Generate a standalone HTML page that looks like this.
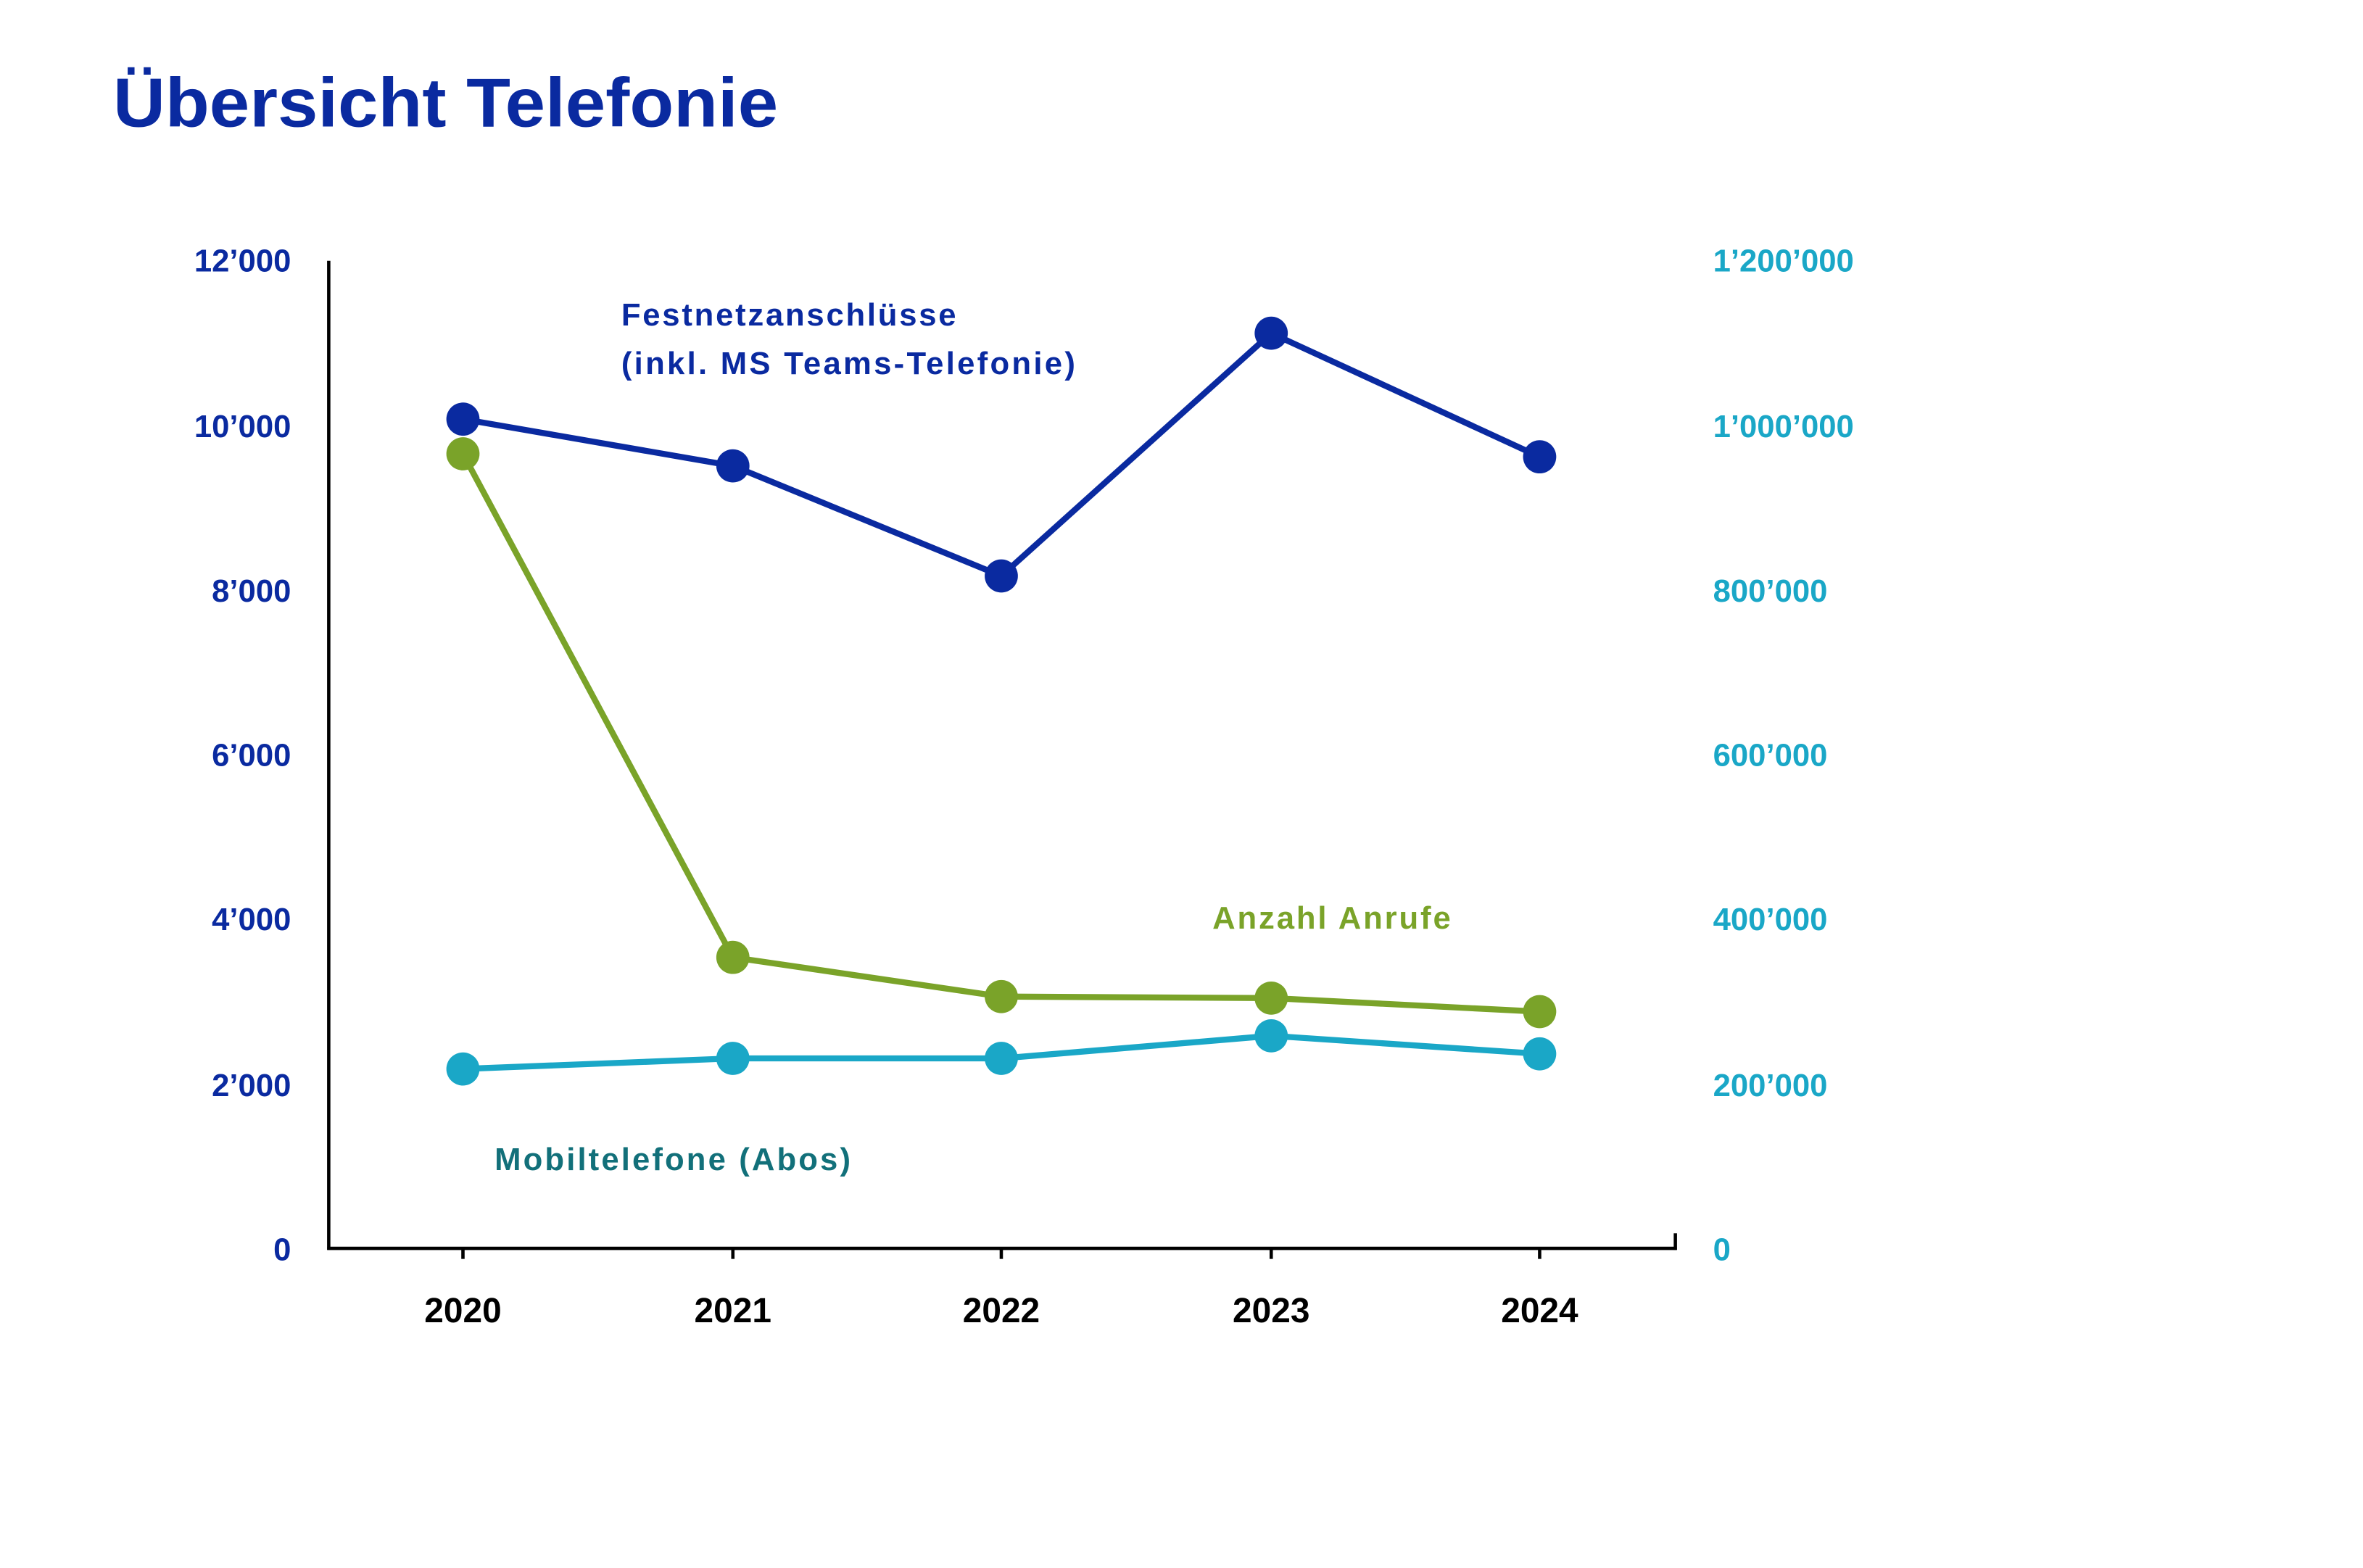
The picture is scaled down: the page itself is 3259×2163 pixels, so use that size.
<!DOCTYPE html>
<html><head><meta charset="utf-8"><style>
html,body{margin:0;padding:0;background:#fff;}
svg{display:block;}
text{font-family:"Liberation Sans",sans-serif;}
</style></head><body>
<svg width="3259" height="2163" viewBox="0 0 1567 1040" preserveAspectRatio="none" xmlns="http://www.w3.org/2000/svg">
<text x="75" y="84" font-size="46" font-weight="bold" fill="#0a2aa0" textLength="441" lengthAdjust="spacingAndGlyphs">Übersicht Telefonie</text>
<g stroke="#000" stroke-width="2.2" fill="none">
<line x1="218" y1="173" x2="218" y2="829"/>
<line x1="217" y1="828" x2="1112" y2="828"/>
<line x1="1111" y1="818" x2="1111" y2="829"/>
<line x1="307" y1="828" x2="307" y2="835"/>
<line x1="486" y1="828" x2="486" y2="835"/>
<line x1="664" y1="828" x2="664" y2="835"/>
<line x1="843" y1="828" x2="843" y2="835"/>
<line x1="1021" y1="828" x2="1021" y2="835"/>
</g>
<g font-size="21" font-weight="bold" fill="#0a2aa0" text-anchor="end">
<text x="193" y="180">12’000</text>
<text x="193" y="290">10’000</text>
<text x="193" y="399">8’000</text>
<text x="193" y="508">6’000</text>
<text x="193" y="617">4’000</text>
<text x="193" y="727">2’000</text>
<text x="193" y="836">0</text>
</g>
<g font-size="21" font-weight="bold" fill="#1aa7c7">
<text x="1136" y="180">1’200’000</text>
<text x="1136" y="290">1’000’000</text>
<text x="1136" y="399">800’000</text>
<text x="1136" y="508">600’000</text>
<text x="1136" y="617">400’000</text>
<text x="1136" y="727">200’000</text>
<text x="1136" y="836">0</text>
</g>
<g font-size="23" font-weight="bold" fill="#000" text-anchor="middle">
<text x="307" y="877">2020</text>
<text x="486" y="877">2021</text>
<text x="664" y="877">2022</text>
<text x="843" y="877">2023</text>
<text x="1021" y="877">2024</text>
</g>
<g fill="none" stroke-width="4" stroke-linejoin="round">
<polyline stroke="#0a2aa0" points="307,278 486,309 664,382 843,221 1021,303"/>
<polyline stroke="#7aa329" points="307,301 486,635 664,661 843,662 1021,671"/>
<polyline stroke="#1aa7c7" points="307,709 486,702 664,702 843,687 1021,699"/>
</g>
<g fill="#0a2aa0"><circle cx="307" cy="278" r="11"/><circle cx="486" cy="309" r="11"/><circle cx="664" cy="382" r="11"/><circle cx="843" cy="221" r="11"/><circle cx="1021" cy="303" r="11"/></g>
<g fill="#7aa329"><circle cx="307" cy="301" r="11"/><circle cx="486" cy="635" r="11"/><circle cx="664" cy="661" r="11"/><circle cx="843" cy="662" r="11"/><circle cx="1021" cy="671" r="11"/></g>
<g fill="#1aa7c7"><circle cx="307" cy="709" r="11"/><circle cx="486" cy="702" r="11"/><circle cx="664" cy="702" r="11"/><circle cx="843" cy="687" r="11"/><circle cx="1021" cy="699" r="11"/></g>
<g font-size="21" font-weight="bold" lengthAdjust="spacingAndGlyphs">
<text x="412" y="216" fill="#0a2aa0" textLength="222">Festnetzanschlüsse</text>
<text x="412" y="248" fill="#0a2aa0" textLength="301">(inkl. MS Teams-Telefonie)</text>
<text x="804" y="616" fill="#7aa329" textLength="158">Anzahl Anrufe</text>
<text x="328" y="776" fill="#12707a" textLength="236">Mobiltelefone (Abos)</text>
</g>
</svg>
</body></html>
